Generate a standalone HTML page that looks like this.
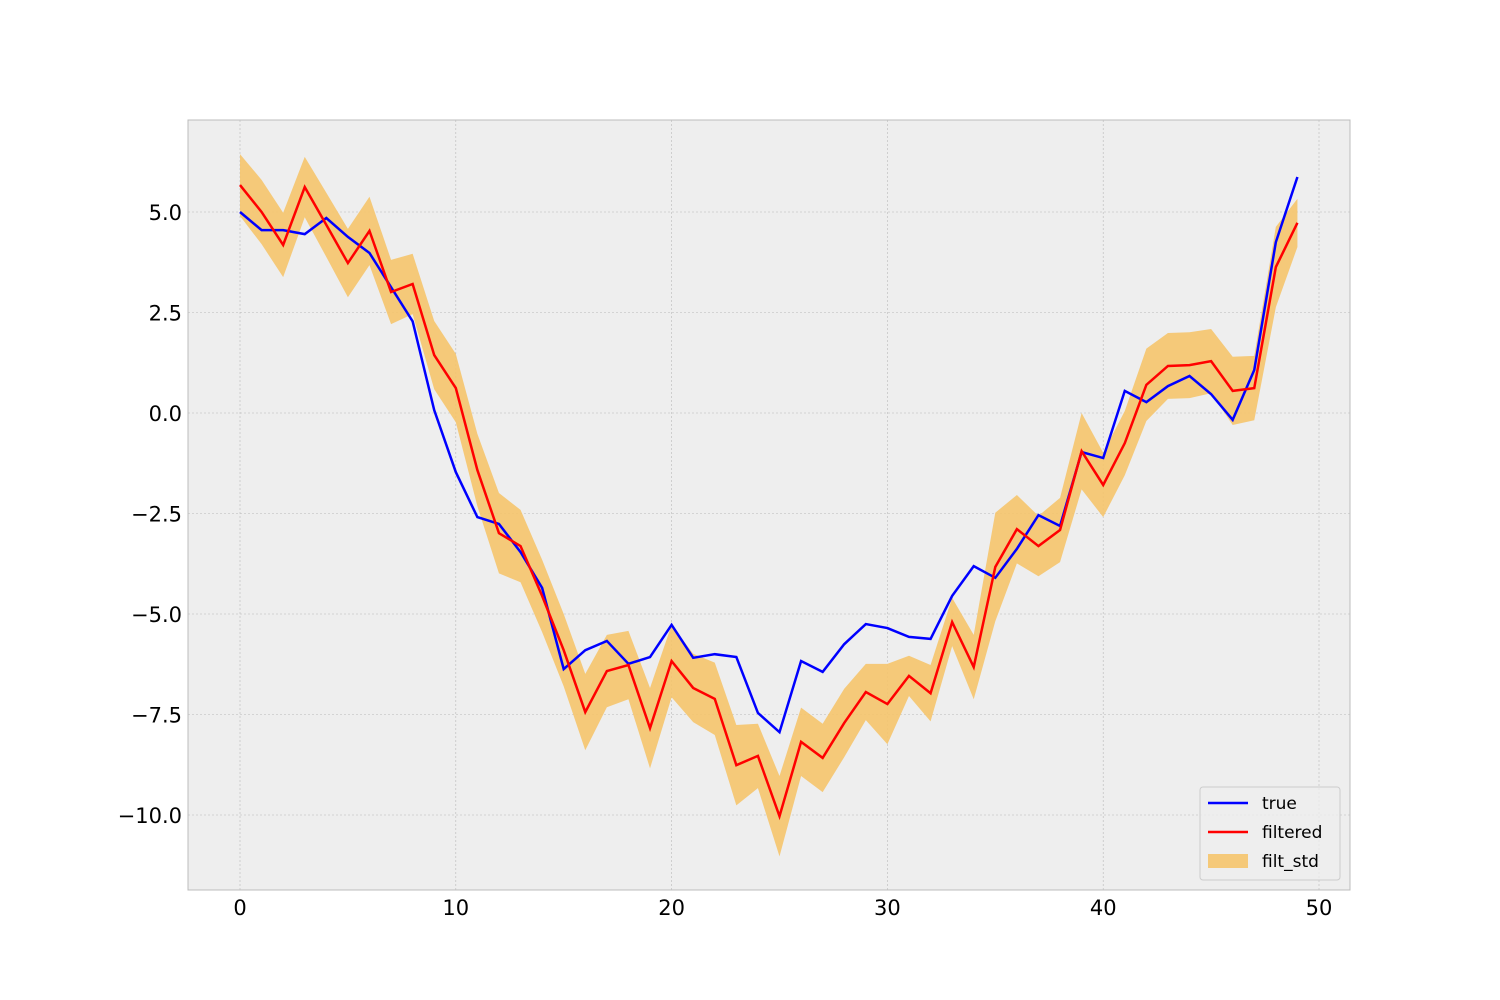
<!DOCTYPE html>
<html><head><meta charset="utf-8"><style>
html,body{margin:0;padding:0;background:#fff;}
svg{display:block;font-family:"DejaVu Sans","Liberation Sans",sans-serif;}
</style></head><body>
<svg id="chart" width="1500" height="1000">
<rect x="188" y="120" width="1162" height="770" fill="#eeeeee"/>
<g id="grid"></g>
<g id="band"></g>
<g id="lines"></g>
<rect x="188" y="120" width="1162" height="770" fill="none" stroke="#bcbcbc" stroke-width="1"/>
<g id="ticks"></g>
<g id="legend">
<rect x="1200" y="787" width="140" height="93" rx="3" fill="#eeeeee" fill-opacity="0.8" stroke="#cccccc"/>
<line x1="1208" y1="803" x2="1248" y2="803" stroke="#0000ff" stroke-width="2.5"/>
<text x="1262" y="809" font-size="17" fill="#000">true</text>
<line x1="1208" y1="832" x2="1248" y2="832" stroke="#ff0000" stroke-width="2.5"/>
<text x="1262" y="838" font-size="17" fill="#000">filtered</text>
<rect x="1208" y="854" width="40" height="14" fill="#f5c46b" fill-opacity="0.9"/>
<text x="1262" y="867" font-size="17" fill="#000">filt_std</text>
</g>
</svg>
<script>
const trueVals=[5.0,4.55,4.55,4.45,4.85,4.38,3.98,3.13,2.28,0.07,-1.47,-2.59,-2.76,-3.46,-4.35,-6.37,-5.9,-5.67,-6.24,-6.07,-5.27,-6.09,-6.0,-6.07,-7.46,-7.94,-6.17,-6.44,-5.75,-5.25,-5.35,-5.57,-5.62,-4.55,-3.81,-4.1,-3.38,-2.54,-2.81,-0.97,-1.12,0.55,0.27,0.67,0.92,0.47,-0.17,1.07,4.25,5.87];
const filtVals=[5.67,5.0,4.18,5.62,4.68,3.73,4.53,3.01,3.21,1.44,0.62,-1.42,-2.99,-3.31,-4.55,-5.9,-7.44,-6.42,-6.27,-7.84,-6.17,-6.84,-7.11,-8.76,-8.53,-10.03,-8.18,-8.58,-7.71,-6.94,-7.24,-6.54,-6.97,-5.2,-6.32,-3.83,-2.89,-3.31,-2.91,-0.95,-1.79,-0.75,0.7,1.17,1.19,1.29,0.55,0.62,3.63,4.73];
const stdVals=[0.77,0.8,0.8,0.75,0.8,0.85,0.85,0.8,0.75,0.85,0.85,0.9,1.0,0.9,0.9,0.9,0.95,0.9,0.85,1.0,0.9,0.85,0.9,1.0,0.8,1.0,0.85,0.85,0.85,0.7,1.0,0.5,0.7,0.6,0.8,1.35,0.85,0.75,0.8,0.95,0.8,0.8,0.9,0.82,0.82,0.8,0.85,0.8,1.0,0.6];
const xTicks=[0,10,20,30,40,50];
const yTicks=[5.0,2.5,0.0,-2.5,-5.0,-7.5,-10.0];
const xs=v=>240+v*(1319-240)/50;
const ys=v=>413-v*(815-212)/15;
const NS='http://www.w3.org/2000/svg';
function mk(tag,attrs,parent){const e=document.createElementNS(NS,tag);for(const k in attrs)e.setAttribute(k,attrs[k]);parent.appendChild(e);return e;}
const grid=document.getElementById('grid'),ticks=document.getElementById('ticks');
xTicks.forEach(t=>{
 const g=mk('line',{x1:xs(t),x2:xs(t),y1:120,y2:890,stroke:'#b8b8b8','stroke-width':0.6,'stroke-dasharray':'2,2'},grid);
 
 
 const l=mk('text',{x:xs(t),y:915,'font-size':21,'text-anchor':'middle',fill:'#000'},ticks);
 l.textContent=String(t);
 
 
});
yTicks.forEach(t=>{
 const g=mk('line',{x1:188,x2:1350,y1:ys(t),y2:ys(t),stroke:'#b8b8b8','stroke-width':0.6,'stroke-dasharray':'2,2'},grid);
 
 
 const l=mk('text',{x:182,y:ys(t)+8,'font-size':21,'text-anchor':'end',fill:'#000'},ticks);
 l.textContent=(t<0?'\u2212':'')+Math.abs(t).toFixed(1);
 
 
});
let up=[],dn=[];
filtVals.forEach((v,i)=>{up.push(xs(i)+','+ys(v+stdVals[i]));dn.unshift(xs(i)+','+ys(v-stdVals[i]));});
const band=mk('polygon',{points:up.concat(dn).join(' '),fill:'#f5c46b','fill-opacity':0.9},document.getElementById('band'));


const lines=document.getElementById('lines');
const tl=mk('polyline',{points:trueVals.map((v,i)=>xs(i)+','+ys(v)).join(' '),fill:'none',stroke:'#0000ff','stroke-width':2.5},lines);


const fl=mk('polyline',{points:filtVals.map((v,i)=>xs(i)+','+ys(v)).join(' '),fill:'none',stroke:'#ff0000','stroke-width':2.5},lines);


</script>
</body></html>
